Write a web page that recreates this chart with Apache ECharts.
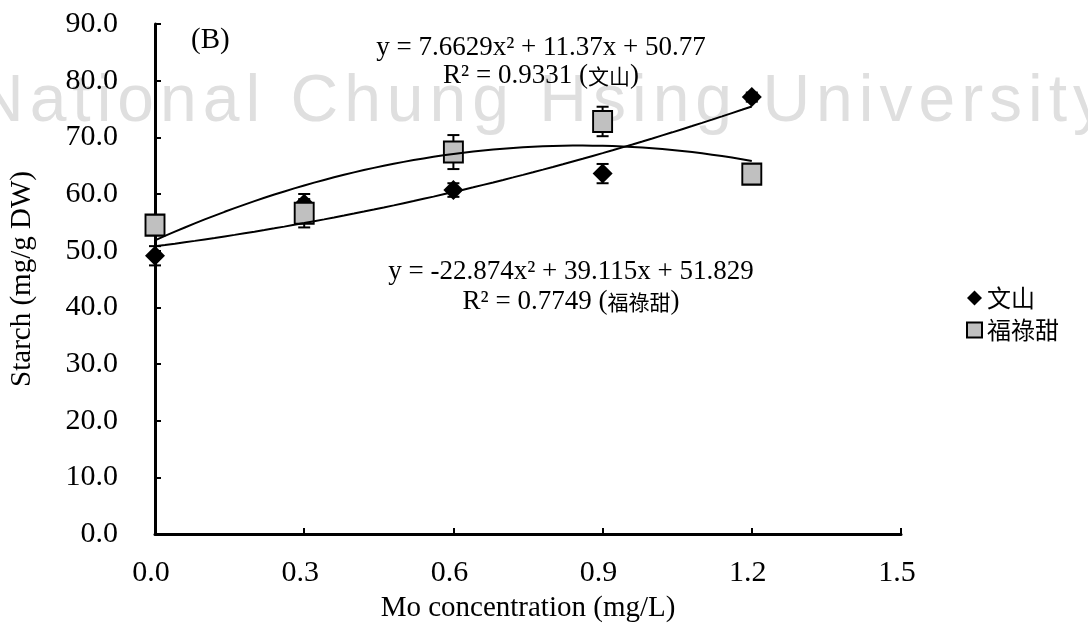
<!DOCTYPE html>
<html>
<head>
<meta charset="utf-8">
<script src="https://cdn.jsdelivr.net/npm/echarts@6/dist/echarts.min.js"></script>
<style>
html,body{margin:0;padding:0;background:#fff;}
#chart{width:1088px;height:634px;}
</style>
</head>
<body>
<div id="chart"></div>
<script>
// ---- data ----
var moLevels = [0, 0.3, 0.6, 0.9, 1.2];
var wenshanValues = [49.1, 58.3, 60.7, 63.6, 77.1];
var wenshanErr = [1.7, 1.7, 1.2, 1.7, 0.8];
var fulutianValues = [54.5, 56.6, 67.4, 72.8, 63.5];
var fulutianErr = [1.0, 2.5, 3.0, 2.6, 0.5];
// quadratic trendline coefficients shown on the chart [a, b, c] for y = a x^2 + b x + c
var wenshanFit = [7.6629, 11.37, 50.77];
var fulutianFit = [-22.874, 39.115, 51.829];
var xTicks = [0, 0.3, 0.6, 0.9, 1.2, 1.5];
var yTicks = [0, 10, 20, 30, 40, 50, 60, 70, 80, 90];
var seriesNames = ['文山', '福祿甜'];
var eq1 = ['y = 7.6629x² + 11.37x + 50.77', 'R² = 0.9331 (', '文山', ')'];
var eq2 = ['y = -22.874x² + 39.115x + 51.829', 'R² = 0.7749 (', '福祿甜', ')'];
var watermark = 'National Chung Hsing University';

function trend(coef) {
  var pts = [];
  var x0 = moLevels[0], x1 = moLevels[moLevels.length - 1];
  var n = 60;
  for (var i = 0; i <= n; i++) {
    var x = x0 + (x1 - x0) * i / n;
    pts.push([x, coef[0] * x * x + coef[1] * x + coef[2]]);
  }
  return pts;
}
function pairs(vals) { return moLevels.map(function (x, i) { return [x, vals[i]]; }); }
function errData(vals, errs) { return moLevels.map(function (x, i) { return [x, vals[i] - errs[i], vals[i] + errs[i]]; }); }

var serif = "'Liberation Serif', 'Times New Roman', 'Noto Sans CJK TC', serif";
var cjk = "'Noto Sans CJK TC', 'Liberation Serif', serif";

function errRender(params, api) {
  var x = api.value(0);
  var lo = api.coord([x, api.value(1)]);
  var hi = api.coord([x, api.value(2)]);
  var w = 6;
  var st = { stroke: '#000', lineWidth: 2 };
  return {
    type: 'group',
    children: [
      { type: 'line', shape: { x1: lo[0], y1: lo[1], x2: hi[0], y2: hi[1] }, style: st },
      { type: 'line', shape: { x1: lo[0] - w, y1: lo[1], x2: lo[0] + w, y2: lo[1] }, style: st },
      { type: 'line', shape: { x1: hi[0] - w, y1: hi[1], x2: hi[0] + w, y2: hi[1] }, style: st }
    ]
  };
}

// watermark, letter-spaced
var wmFontSize = 66, wmSpacing = 6, wmFont = "'Liberation Sans', Arial, sans-serif";
var mctx = document.createElement('canvas').getContext('2d');
mctx.font = wmFontSize + 'px ' + wmFont;
var wmEls = [];
var cx = -24;
for (var i = 0; i < watermark.length; i++) {
  var ch = watermark[i];
  if (ch !== ' ') {
    wmEls.push({ type: 'text', x: cx, y: 103, z: -10, silent: true,
      style: { text: ch, fill: '#dfdfdf', fontSize: wmFontSize, fontFamily: wmFont, verticalAlign: 'middle', align: 'left' } });
  }
  cx += mctx.measureText(ch).width + wmSpacing;
}

function txt(t, x, y, align, size) {
  return { type: 'text', x: x, y: y, z: 10, style: { text: t, fill: '#000', fontSize: size, fontFamily: serif, align: align, verticalAlign: 'middle' } };
}
function rtxt(parts, x, y) {
  return { type: 'text', x: x, y: y, z: 10, style: {
    text: '{l|' + parts[1] + '}{c|' + parts[2] + '}{l|' + parts[3] + '}',
    align: 'center', verticalAlign: 'middle',
    rich: {
      l: { fill: '#000', fontSize: 27, fontFamily: serif },
      c: { fill: '#000', fontSize: 21, fontFamily: cjk }
    }
  } };
}

var chart = echarts.init(document.getElementById('chart'), null, { renderer: 'canvas' });
var axisCommon = {
  axisLine: { show: true, onZero: false, lineStyle: { color: '#000', width: 3 } },
  axisTick: { show: true, inside: true, length: 6, lineStyle: { color: '#000', width: 2 } },
  splitLine: { show: false },
  nameTextStyle: { color: '#000', fontSize: 29, fontFamily: serif },
  axisLabel: { color: '#000', fontSize: 30, fontFamily: serif, formatter: function (v) { return v.toFixed(1); } }
};

chart.setOption({
  backgroundColor: '#fff',
  animation: false,
  grid: { left: 153, right: 187, top: 24, bottom: 100, containLabel: false },
  xAxis: Object.assign({}, axisCommon, {
    type: 'value', min: xTicks[0], max: xTicks[xTicks.length - 1], interval: 0.3,
    name: 'Mo concentration (mg/L)', nameLocation: 'middle', nameGap: 60,
    axisLabel: Object.assign({}, axisCommon.axisLabel, { margin: 24, padding: [0, 8, 0, 0] })
  }),
  yAxis: Object.assign({}, axisCommon, {
    type: 'value', min: yTicks[0], max: yTicks[yTicks.length - 1], interval: 10,
    name: 'Starch (mg/g DW)', nameLocation: 'middle', nameGap: 118, nameRotate: 90,
    axisLabel: Object.assign({}, axisCommon.axisLabel, { margin: 37 })
  }),
  legend: {
    data: seriesNames, orient: 'vertical', left: 961, top: 281,
    itemWidth: 15, itemHeight: 15, itemGap: 8,
    textStyle: { color: '#000', fontSize: 24, fontFamily: cjk }
  },
  graphic: wmEls.concat([
    txt('(B)', 191, 40, 'left', 29),
    txt(eq1[0], 541, 48, 'center', 27),
    rtxt(eq1, 541, 76),
    txt(eq2[0], 571, 272, 'center', 27),
    rtxt(eq2, 571, 302)
  ]),
  series: [
    { name: seriesNames[0] + '_err', type: 'custom', z: 2, renderItem: errRender, data: errData(wenshanValues, wenshanErr), encode: { x: 0, y: [1, 2] }, silent: true },
    { name: seriesNames[1] + '_err', type: 'custom', z: 2, renderItem: errRender, data: errData(fulutianValues, fulutianErr), encode: { x: 0, y: [1, 2] }, silent: true },
    { name: seriesNames[0], type: 'scatter', z: 3, symbol: 'diamond', symbolSize: [20, 20],
      itemStyle: { color: '#000', opacity: 1 }, data: pairs(wenshanValues) },
    { name: seriesNames[1], type: 'scatter', z: 3, symbol: 'rect', symbolSize: [19, 21],
      itemStyle: { color: '#c0c0c0', borderColor: '#000', borderWidth: 2, opacity: 1 }, data: pairs(fulutianValues) },
    { name: 'fit1', type: 'line', z: 4, showSymbol: false, symbol: 'none', smooth: false,
      lineStyle: { color: '#000', width: 2 }, data: trend(wenshanFit), silent: true },
    { name: 'fit2', type: 'line', z: 4, showSymbol: false, symbol: 'none', smooth: false,
      lineStyle: { color: '#000', width: 2 }, data: trend(fulutianFit), silent: true }
  ]
});
</script>
</body>
</html>
